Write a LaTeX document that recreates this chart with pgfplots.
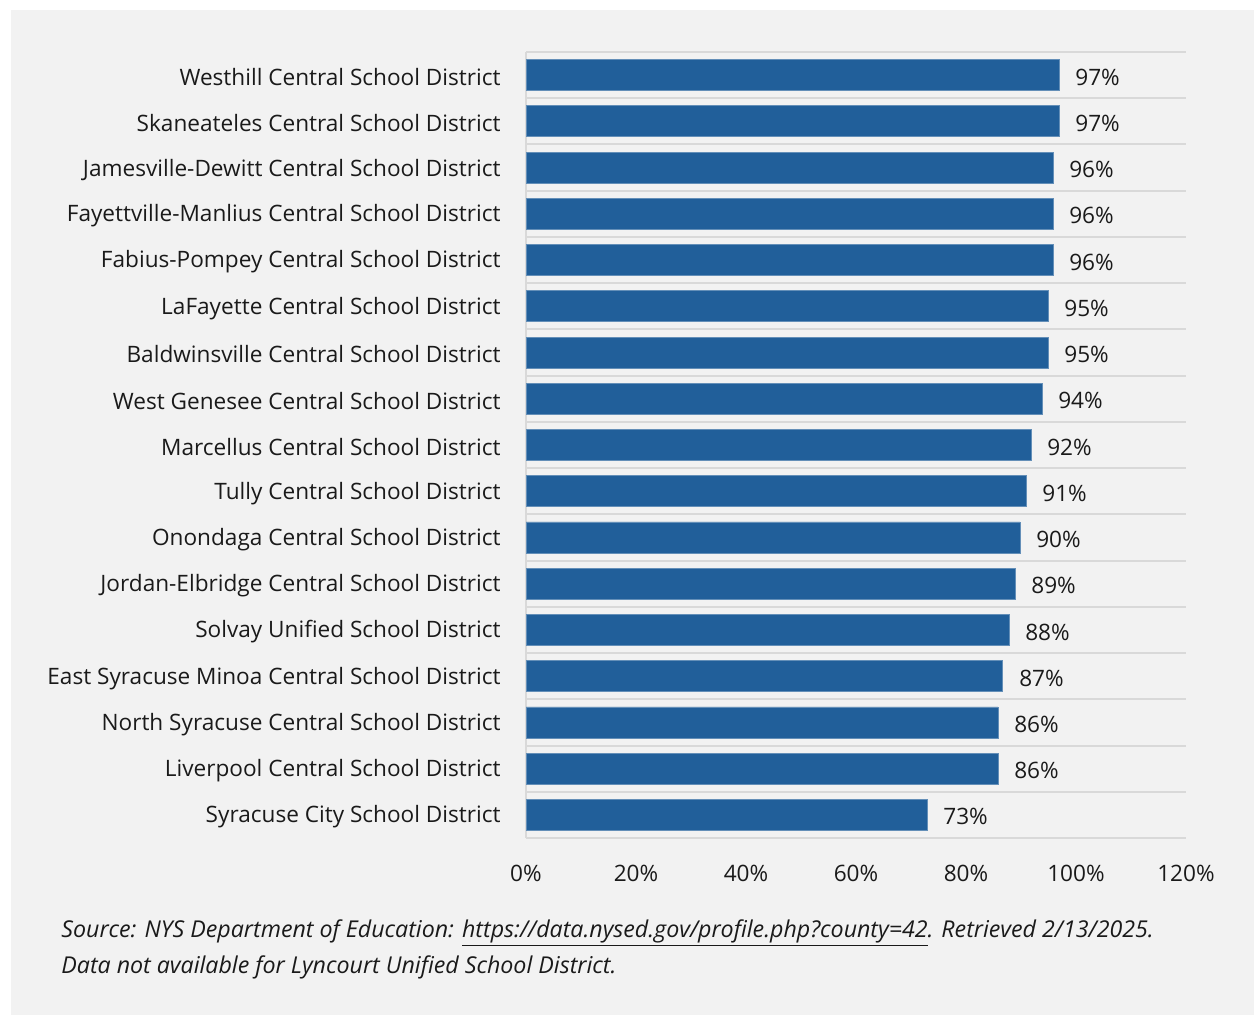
\documentclass[border=0pt]{standalone}
\usepackage{pgfplots}
\pgfplotsset{compat=1.18}
\usepackage{pgfplotstable}
\usepackage{fontspec}
\setmainfont{Open Sans}

\definecolor{barblue}{HTML}{215F9A}
\definecolor{panel}{HTML}{F2F2F2}
\definecolor{gridgray}{HTML}{D9D9D9}
\definecolor{txt}{HTML}{1A1A1A}

% bottom to top
\pgfplotstableread{
idx val
0  72.9
1  85.8
2  85.8
3  86.7
4  87.8
5  88.9
6  89.8
7  90.9
8  91.8
9  93.8
10 94.9
11 94.9
12 95.8
13 95.8
14 95.8
15 96.9
16 96.9
}\gradrates

\begin{document}
\begin{tikzpicture}
\path[use as bounding box] (0,0) rectangle (627bp,507.5bp);
\fill[white] (0,0) rectangle (627bp,507.5bp);
\fill[panel] (5.5bp,0) rectangle (627bp,502.5bp);
\begin{axis}[
    at={(263bp,88.5bp)}, anchor=south west,
    scale only axis,
    width=330bp, height=393bp,
    xbar, bar width=15.5bp,
    xmin=0, xmax=120,
    ymin=-0.5, ymax=16.5,
    xtick={0,20,...,120},
    xticklabel={\pgfmathprintnumber{\tick}\%},
    ytick={0,...,16},
    yticklabels={
        Syracuse City School District,
        Liverpool Central School District,
        North Syracuse Central School District,
        East Syracuse Minoa Central School District,
        Solvay Unified School District,
        Jordan-Elbridge Central School District,
        Onondaga Central School District,
        Tully Central School District,
        Marcellus Central School District,
        West Genesee Central School District,
        Baldwinsville Central School District,
        LaFayette Central School District,
        Fabius-Pompey Central School District,
        Fayettville-Manlius Central School District,
        Jamesville-Dewitt Central School District,
        Skaneateles Central School District,
        Westhill Central School District},
    minor ytick={-0.5,0.5,...,16.5},
    yminorgrids=true,
    minor grid style={gridgray, line width=1bp},
    extra x ticks={0},
    extra x tick labels={},
    extra x tick style={grid=major, major grid style={gridgray, line width=1bp}},
    axis line style={draw=none},
    major tick length=0pt, minor tick length=0pt,
    tick style={draw=none},
    /pgf/number format/assume math mode=true,
    ticklabel style={font=\fontsize{11.3bp}{13bp}\selectfont, text=txt, inner sep=0pt},
    xticklabel style={anchor=north, yshift=-13.5bp},
    yticklabel style={anchor=east, xshift=-12.5bp, yshift=-1bp},
    nodes near coords={\pgfmathprintnumber[fixed,precision=0]{\pgfplotspointmeta}\%},
    nodes near coords style={anchor=west, inner sep=0pt, xshift=8bp, yshift=-1bp,
        font=\fontsize{11.3bp}{13bp}\selectfont, text=txt},
    point meta=x,
    clip=false,
]
\addplot[fill=barblue, draw=barblue!70!white, line width=0.4bp] table[x=val, y=idx] {\gradrates};
\end{axis}
\node[anchor=base west, inner sep=0pt, font=\fontsize{11.6bp}{13bp}\selectfont\itshape, text=txt]
    at (30.5bp,39bp) {Source: NYS Department of Education: \underline{https://data.nysed.gov/profile.php?county=42}. Retrieved 2/13/2025.};
\node[anchor=base west, inner sep=0pt, font=\fontsize{11.6bp}{13bp}\selectfont\itshape, text=txt]
    at (30.5bp,21bp) {Data not available for Lyncourt Unified School District.};
\end{tikzpicture}
\end{document}
